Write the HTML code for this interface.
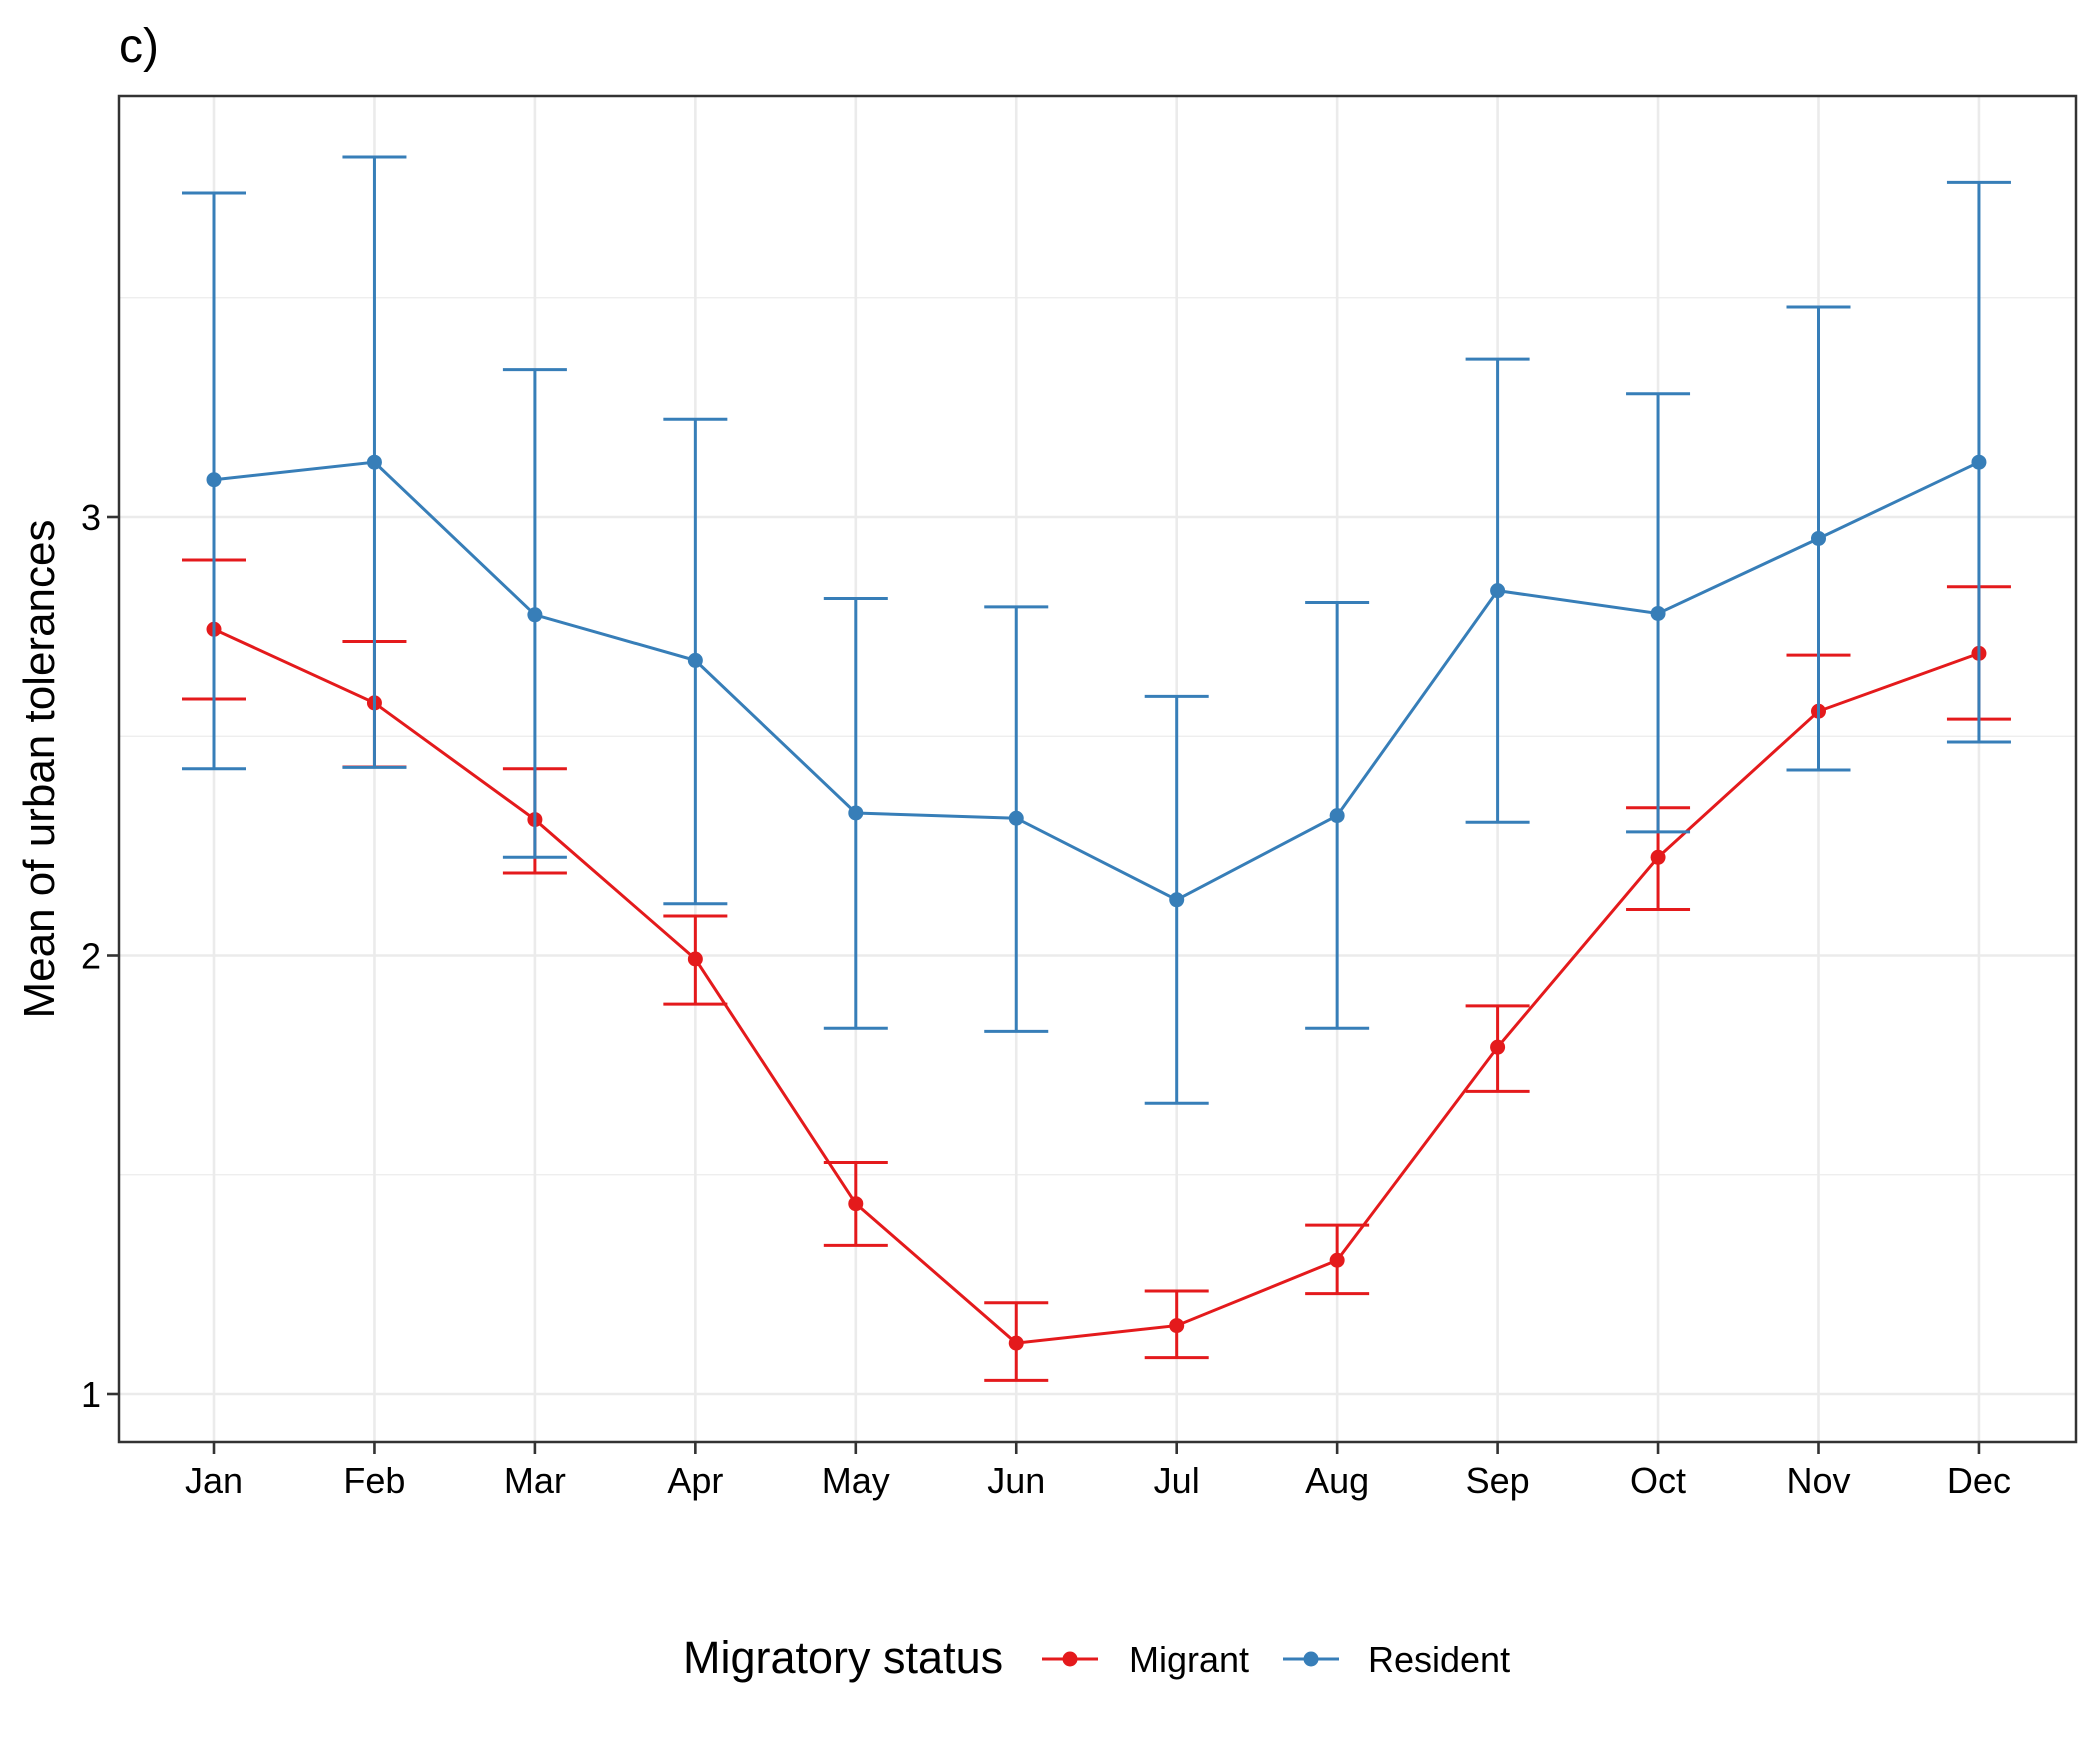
<!DOCTYPE html>
<html><head><meta charset="utf-8"><style>
html,body{margin:0;padding:0;background:#fff;}
svg{display:block;font-family:"Liberation Sans",Arial,sans-serif;}
</style></head><body>
<svg id="chart" width="2100" height="1740" viewBox="0 0 2100 1740" xmlns="http://www.w3.org/2000/svg">
<rect width="2100" height="1740" fill="#fff"/>
<text x="119" y="62" font-size="48" fill="#000">c)</text>
<g id="grid"></g>
<g id="marks"></g>
<rect x="119" y="96" width="1957" height="1346" fill="none" stroke="#333" stroke-width="2.5"/>
<g id="axes"></g>
<text transform="translate(54,769) rotate(-90)" text-anchor="middle" font-size="44" fill="#000">Mean of urban tolerances</text>
<g>
<text x="683" y="1673" font-size="45" fill="#000">Migratory status</text>
<g>
<line x1="1042" y1="1659" x2="1098" y2="1659" stroke="#E41A1C" stroke-width="3"/>
<circle cx="1070" cy="1659" r="7.5" fill="#E41A1C"/>
<text x="1129" y="1672" font-size="36" fill="#000">Migrant</text>
</g>
<g>
<line x1="1283" y1="1659" x2="1339" y2="1659" stroke="#377EB8" stroke-width="3"/>
<circle cx="1311" cy="1659" r="7.5" fill="#377EB8"/>
<text x="1368" y="1672" font-size="36" fill="#000">Resident</text>
</g>
</g>
</svg>
<script>
const months = ["Jan","Feb","Mar","Apr","May","Jun","Jul","Aug","Sep","Oct","Nov","Dec"];
const residentMean = [3.085,3.125,2.777,2.673,2.325,2.313,2.127,2.319,2.832,2.780,2.951,3.125];
const residentUpper = [3.739,3.821,3.336,3.223,2.814,2.795,2.591,2.805,3.360,3.281,3.479,3.763];
const residentLower = [2.426,2.429,2.224,2.118,1.834,1.827,1.663,1.834,2.304,2.282,2.423,2.487];
const migrantMean = [2.744,2.576,2.310,1.992,1.434,1.116,1.156,1.305,1.791,2.224,2.557,2.689];
const migrantUpper = [2.902,2.716,2.426,2.090,1.528,1.208,1.235,1.385,1.885,2.337,2.685,2.841];
const migrantLower = [2.585,2.430,2.188,1.889,1.339,1.031,1.083,1.229,1.690,2.105,2.423,2.539];
const yTicks = [1,2,3];
const yMinor = [1.5,2.5,3.5];

const NS="http://www.w3.org/2000/svg";
const X0=214, DX=160.45;
function xs(i){return X0+i*DX;}
function ys(v){return 1394-(v-1)*438.5;}
function mk(tag,attrs,parent){const e=document.createElementNS(NS,tag);for(const k in attrs)e.setAttribute(k,attrs[k]);parent.appendChild(e);return e;}
const grid=document.getElementById('grid'), marks=document.getElementById('marks'), axes=document.getElementById('axes');

yMinor.forEach(v=>{
  const l=mk('line',{x1:119,x2:2076,y1:ys(v),y2:ys(v),stroke:'#ebebeb','stroke-width':1.3},grid);
  
  
});
yTicks.forEach(v=>{
  const l=mk('line',{x1:119,x2:2076,y1:ys(v),y2:ys(v),stroke:'#ebebeb','stroke-width':2.6},grid);
  
  
  const t=mk('line',{x1:107,x2:119,y1:ys(v),y2:ys(v),stroke:'#333','stroke-width':2.6},axes);
  
  
  const tx=mk('text',{x:101,y:ys(v)+13,'text-anchor':'end','font-size':36,fill:'#000'},axes);
  tx.textContent=v;
  
  
});
months.forEach((m,i)=>{
  const l=mk('line',{x1:xs(i),x2:xs(i),y1:96,y2:1442,stroke:'#ebebeb','stroke-width':2.6},grid);
  
  
  const t=mk('line',{x1:xs(i),x2:xs(i),y1:1442,y2:1454,stroke:'#333','stroke-width':2.6},axes);
  
  
  const tx=mk('text',{x:xs(i),y:1493,'text-anchor':'middle','font-size':36,fill:'#000'},axes);
  tx.textContent=m;
  
  
});

function series(name,color,mean,up,lo){
  const g=mk('g',{},marks);
  
  
  mean.forEach((v,i)=>{
    const x=xs(i);
    const eb=mk('path',{d:`M${x-32},${ys(up[i])}H${x+32}M${x},${ys(up[i])}V${ys(lo[i])}M${x-32},${ys(lo[i])}H${x+32}`,stroke:color,'stroke-width':3,fill:'none'},g);
    
    
  });
  const pl=mk('polyline',{points:mean.map((v,i)=>xs(i)+','+ys(v)).join(' '),stroke:color,'stroke-width':3,fill:'none'},g);
  
  
  mean.forEach((v,i)=>{
    const c=mk('circle',{cx:xs(i),cy:ys(v),r:7.5,fill:color},g);
    
    
  });
}
series('migrant','#E41A1C',migrantMean,migrantUpper,migrantLower);
series('resident','#377EB8',residentMean,residentUpper,residentLower);
</script>
</body></html>
